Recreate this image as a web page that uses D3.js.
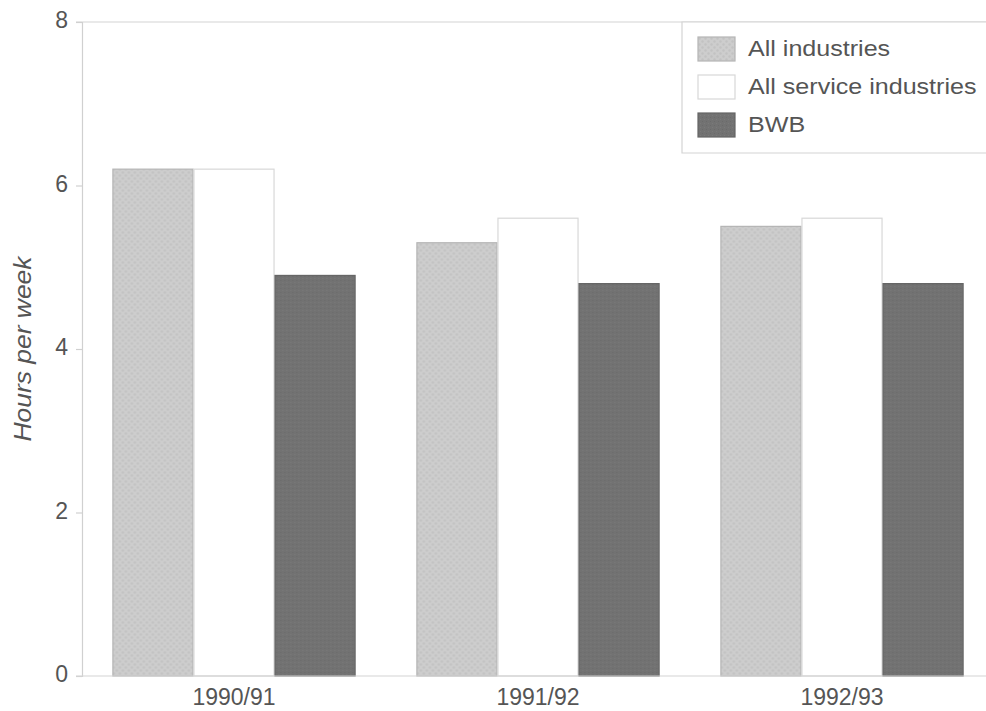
<!DOCTYPE html>
<html>
<head>
<meta charset="utf-8">
<script src="https://cdn.jsdelivr.net/npm/d3@7"></script>
<style>
  html, body { margin: 0; padding: 0; background: #fff; }
  svg { display: block; }
  text { font-family: "Liberation Sans", Arial, sans-serif; }
</style>
</head>
<body>
<script>
// Data
const years = ["1990/91", "1991/92", "1992/93"];
const seriesNames = ["All industries", "All service industries", "BWB"];
const allIndustries = [6.2, 5.3, 5.5];
const allServiceIndustries = [6.2, 5.6, 5.6];
const bwb = [4.9, 4.8, 4.8];
const yTicks = [0, 2, 4, 6, 8];

const seriesValues = [allIndustries, allServiceIndustries, bwb];

const W = 986, H = 711;
const margin = { top: 22, right: -8, bottom: 35, left: 82 };

const svg = d3.select("body").append("svg")
  .attr("width", W).attr("height", H);

// Light dotted texture for the "All industries" bars
const defs = svg.append("defs");
const pat = defs.append("pattern")
  .attr("id", "dots").attr("patternUnits", "userSpaceOnUse")
  .attr("width", 6).attr("height", 6);
pat.append("rect").attr("width", 6).attr("height", 6).attr("fill", "#cdcdcd");
pat.append("circle").attr("cx", 1.5).attr("cy", 1.5).attr("r", 1.2).attr("fill", "#c2c2c2");
pat.append("circle").attr("cx", 4.5).attr("cy", 4.5).attr("r", 1.2).attr("fill", "#c2c2c2");

// Fine grain for the dark BWB bars
const pat2 = defs.append("pattern")
  .attr("id", "grain").attr("patternUnits", "userSpaceOnUse")
  .attr("width", 4).attr("height", 4);
pat2.append("rect").attr("width", 4).attr("height", 4).attr("fill", "#727272");
pat2.append("rect").attr("x", 0).attr("y", 0).attr("width", 1).attr("height", 1).attr("fill", "#6a6a6a");
pat2.append("rect").attr("x", 2).attr("y", 2).attr("width", 1).attr("height", 1).attr("fill", "#7a7a7a");

const fills = ["url(#dots)", "#ffffff", "url(#grain)"];
const strokes = ["#b5b5b5", "#d8d8d8", "#666666"];

const x0 = d3.scaleBand()
  .domain(years)
  .range([margin.left, W - margin.right])
  .paddingInner(0.2)
  .paddingOuter(0.1);

const x1 = d3.scaleBand()
  .domain(seriesNames)
  .range([0, x0.bandwidth()]);

const y = d3.scaleLinear()
  .domain([0, 8])
  .range([H - margin.bottom, margin.top]);

// Top frame line
svg.append("line")
  .attr("x1", margin.left - 6).attr("x2", W)
  .attr("y1", y(8)).attr("y2", y(8))
  .attr("stroke", "#d4d4d4").attr("stroke-width", 1.2);

// Bars
const groups = svg.append("g").selectAll("g")
  .data(years)
  .join("g")
  .attr("transform", d => `translate(${x0(d)},0)`);

groups.selectAll("rect")
  .data((d, i) => seriesNames.map((s, j) => ({ s, j, v: seriesValues[j][i] })))
  .join("rect")
  .attr("x", d => x1(d.s) + 0.5)
  .attr("width", x1.bandwidth() - 1)
  .attr("y", d => y(d.v))
  .attr("height", d => y(0) - y(d.v))
  .attr("fill", d => fills[d.j])
  .attr("stroke", d => strokes[d.j])
  .attr("stroke-width", 1.2);

// Y axis
const yAxis = svg.append("g")
  .attr("transform", `translate(${margin.left},0)`)
  .call(d3.axisLeft(y).tickValues(yTicks).tickFormat(d3.format("d")).tickSize(6).tickPadding(8));
yAxis.select(".domain").attr("stroke", "#d0d0d0").attr("stroke-width", 1.2);
yAxis.selectAll(".tick line").attr("stroke", "#d0d0d0").attr("stroke-width", 1.2);
yAxis.selectAll(".tick text")
  .attr("font-size", 23).attr("fill", "#555")
  .attr("dy", "0.25em");

// X axis baseline and labels
const xAxis = svg.append("g")
  .attr("transform", `translate(0,${y(0)})`)
  .call(d3.axisBottom(x0).tickSize(0).tickPadding(0));
xAxis.select(".domain").remove();
xAxis.append("line")
  .attr("x1", margin.left - 6).attr("x2", W)
  .attr("stroke", "#d4d4d4").attr("stroke-width", 1.2);
xAxis.selectAll(".tick text")
  .attr("font-size", 23).attr("fill", "#555")
  .attr("y", 29).attr("dy", 0);

// Y axis title
svg.append("text")
  .attr("transform", `translate(31,${(y(0) + y(8)) / 2}) rotate(-90) scale(1.15,1)`)
  .attr("text-anchor", "middle")
  .attr("font-size", 23)
  .attr("font-style", "italic")
  .attr("fill", "#555")
  .text("Hours per week");

// Legend
const lg = svg.append("g");
lg.append("path")
  .attr("d", `M${W},${y(8)} H682 V153 H${W}`)
  .attr("fill", "#fff")
  .attr("stroke", "#d4d4d4").attr("stroke-width", 1.2);

const legendItems = lg.selectAll("g.item")
  .data(seriesNames)
  .join("g")
  .attr("class", "item")
  .attr("transform", (d, i) => `translate(698,${37 + i * 38})`);
legendItems.append("rect")
  .attr("width", 37).attr("height", 24)
  .attr("fill", (d, i) => fills[i])
  .attr("stroke", (d, i) => strokes[i])
  .attr("stroke-width", 1.2);
legendItems.append("text")
  .attr("transform", "translate(50,19) scale(1.14,1)")
  .attr("font-size", 22).attr("fill", "#555")
  .text(d => d);
</script>
</body>
</html>
